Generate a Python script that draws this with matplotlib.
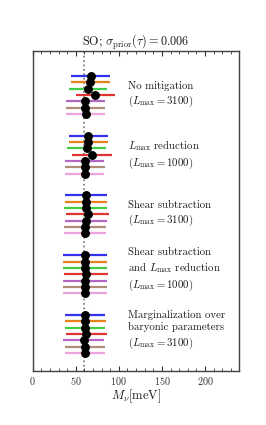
import matplotlib
matplotlib.use("Agg")
import matplotlib.pyplot as plt
from matplotlib.ticker import MultipleLocator

plt.rcParams['font.family'] = 'serif'
plt.rcParams['font.serif'] = ['cmr10']
plt.rcParams['mathtext.fontset'] = 'cm'
plt.rcParams['axes.formatter.use_mathtext'] = True

# Mnu constraints [meV] for each mitigation scheme, one value per colored row
colors = ['#3333ee', '#e8821e', '#44cc44', '#e03333', '#b366c4', '#b08c7a', '#eda3dd']

means_none = [67.6, 67.0, 64.5, 72.8, 61.2, 61.2, 61.4]
sigma_none = [22.6, 22.5, 22.3, 22.5, 22.5, 22.5, 22.4]

means_lmax = [64.7, 64.7, 62.6, 68.9, 60.4, 60.7, 60.6]
sigma_lmax = [22.5, 22.5, 22.7, 22.9, 22.8, 22.8, 22.6]

means_shear = [61.8, 62.2, 61.4, 63.8, 61.6, 60.6, 61.0]
sigma_shear = [24.6, 24.6, 24.6, 24.6, 24.4, 24.6, 24.6]

means_shear_lmax = [60.8, 61.0, 61.0, 62.0, 61.0, 60.8, 61.0]
sigma_shear_lmax = [25.6, 25.6, 25.6, 25.6, 25.6, 25.6, 25.6]

means_marg = [60.8, 61.2, 60.8, 62.4, 59.4, 60.8, 60.8]
sigma_marg = [23.6, 23.6, 23.6, 23.6, 23.8, 23.6, 23.6]

labels = [
    "No mitigation\n($L_{\\rm max} = 3100$)",
    "$L_{\\rm max}$ reduction\n($L_{\\rm max} = 1000$)",
    "Shear subtraction\n($L_{\\rm max} = 3100$)",
    "Shear subtraction\nand $L_{\\rm max}$ reduction\n($L_{\\rm max} = 1000$)",
    "Marginalization over\nbaryonic parameters\n($L_{\\rm max} = 3100$)",
]
fiducial_mnu = 60

groups = [
    (means_none, sigma_none),
    (means_lmax, sigma_lmax),
    (means_shear, sigma_shear),
    (means_shear_lmax, sigma_shear_lmax),
    (means_marg, sigma_marg),
]
group_step = 9.43

fig = plt.figure(figsize=(2.66, 4.25), dpi=100)
ax = fig.add_axes([0.123, 0.128, 0.777, 0.753])

ax.axvline(fiducial_mnu, color='0.45', ls=':', lw=1.2, zorder=1)

for g, (means, sigmas) in enumerate(groups):
    y0 = g * group_step
    for i, (m, s) in enumerate(zip(means, sigmas)):
        y = y0 + i
        ax.plot([m - s, m + s], [y, y], color=colors[i], lw=1.6, zorder=2,
                solid_capstyle='butt')
        ax.plot(m, y, 'o', color='k', ms=5.4, zorder=3)
    text_y = y0 + 3 if len(labels[g].split('\n')) == 2 else y0 + 2.4
    ax.text(110.8, text_y, labels[g], fontsize=7.8, va='center', ha='left',
            linespacing=1.3, color='0.1')

ax.set_xlim(0, 240)
ax.set_ylim(46.5, -4.0)
ax.set_yticks([])
ax.xaxis.set_major_locator(MultipleLocator(50))
ax.xaxis.set_minor_locator(MultipleLocator(10))
ax.tick_params(axis='x', which='both', direction='in', top=True, labelsize=7.3,
               colors='0.2')
ax.tick_params(axis='x', which='major', length=3.5, width=0.8)
ax.tick_params(axis='x', which='minor', length=2, width=0.6)
for sp in ax.spines.values():
    sp.set_color('0.25')
    sp.set_linewidth(1.0)

ax.set_xlabel(r"$M_\nu [{\rm meV}]$", fontsize=9, labelpad=0, color='0.1')
ax.set_title(r"SO; $\sigma_{\rm prior}(\tau) = 0.006$", fontsize=8.8, pad=3,
             color='0.1')

fig.savefig("out.png", dpi=100)
